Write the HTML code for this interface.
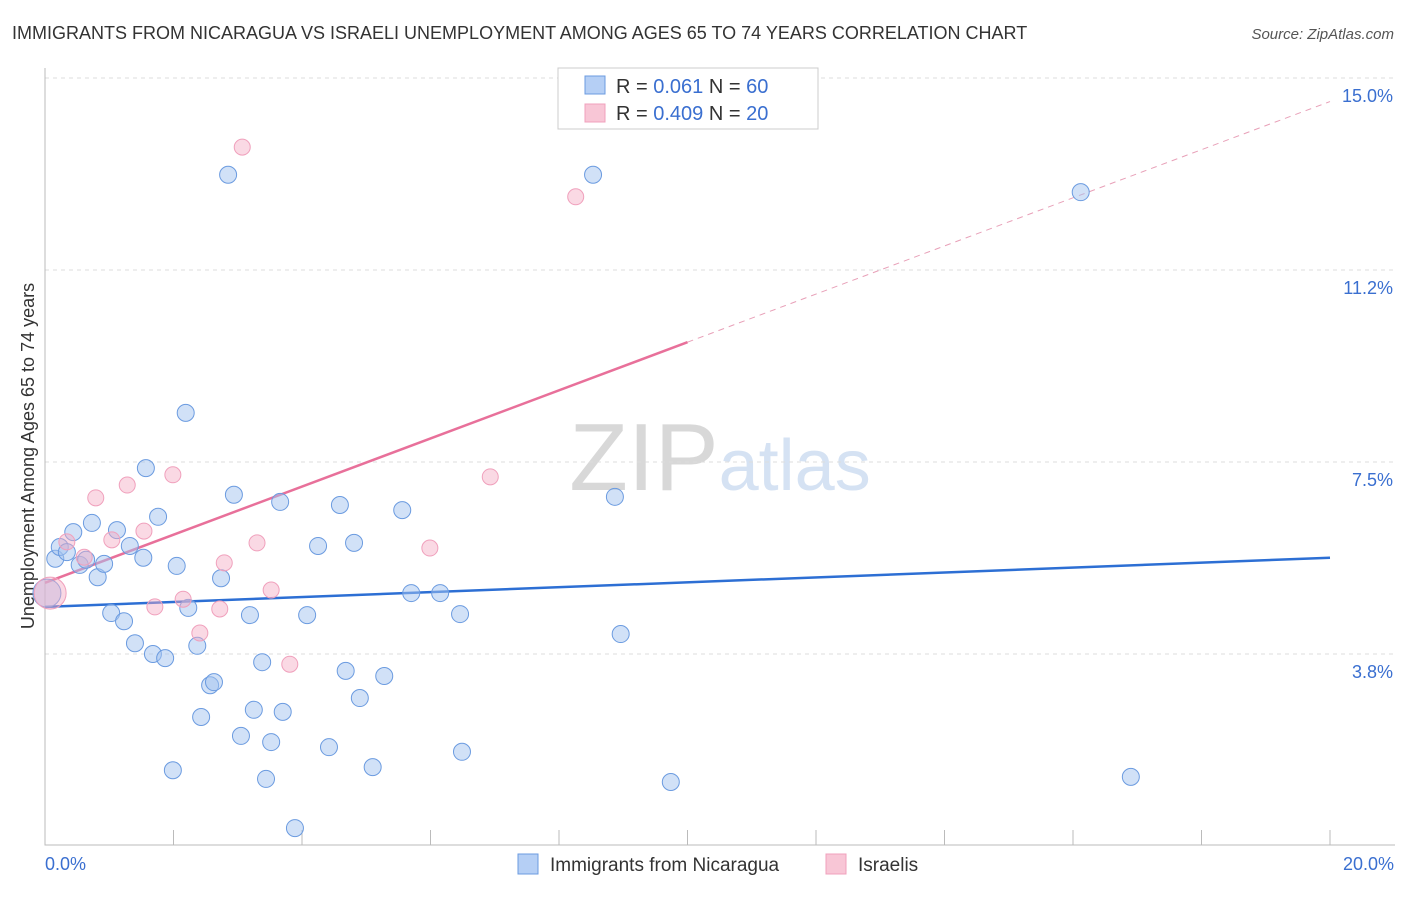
<!DOCTYPE html>
<html><head><meta charset="utf-8"><style>
body{margin:0;background:#fff;font-family:"Liberation Sans",sans-serif;}
svg text{font-family:"Liberation Sans",sans-serif;}
</style></head><body>
<svg id="chart" width="1406" height="892" xmlns="http://www.w3.org/2000/svg">
<text x="12" y="39" font-size="18" fill="#333">IMMIGRANTS FROM NICARAGUA VS ISRAELI UNEMPLOYMENT AMONG AGES 65 TO 74 YEARS CORRELATION CHART</text>
<text x="1394" y="39" font-size="15" fill="#555" text-anchor="end" font-style="italic">Source: ZipAtlas.com</text>
<text x="720" y="490" font-size="96" text-anchor="middle" fill="#ddd" font-family="Liberation Serif"><tspan fill="#d8d8d8">ZIP</tspan><tspan fill="#d5e2f3" font-family="Liberation Sans" font-size="72">atlas</tspan></text>
<text transform="translate(34,456) rotate(-90)" font-size="18" fill="#333" text-anchor="middle">Unemployment Among Ages 65 to 74 years</text>
<g id="grid"></g><g id="trends"></g><g id="points"></g>
<g>
<rect x="558" y="68" width="260" height="61" fill="#fff" stroke="#ccc"/>
<rect x="585" y="76" width="20" height="18" fill="#b5cff5" stroke="#6b9be0"/>
<text x="616" y="93" font-size="20" fill="#333">R = <tspan fill="#3a6fd0"> 0.061</tspan>   N = <tspan fill="#3a6fd0">60</tspan></text>
<rect x="585" y="104" width="20" height="18" fill="#f8c6d6" stroke="#f0a0bc"/>
<text x="616" y="120" font-size="20" fill="#333">R = <tspan fill="#3a6fd0">0.409</tspan>   N = <tspan fill="#3a6fd0">20</tspan></text>
</g>
<g>
<rect x="518" y="854" width="20" height="20" fill="#b5cff5" stroke="#6b9be0"/>
<text x="550" y="871" font-size="19" fill="#333">Immigrants from Nicaragua</text>
<rect x="826" y="854" width="20" height="20" fill="#f8c6d6" stroke="#f0a0bc"/>
<text x="858" y="871" font-size="19" fill="#333">Israelis</text>
</g>
</svg>
<script>
const blueX=[0.16,0.23,0.34,0.44,0.54,0.64,0.73,0.82,0.92,1.03,1.12,1.23,1.32,1.40,1.53,1.57,1.68,1.76,1.87,1.99,2.05,2.19,2.23,2.37,2.43,2.57,2.63,2.74,2.85,2.94,3.05,3.19,3.25,3.38,3.44,3.52,3.66,3.70,3.89,4.08,4.25,4.42,4.59,4.68,4.81,4.90,5.10,5.28,5.56,5.70,6.15,6.46,6.49,8.53,8.87,8.96,9.74,16.12,16.90,0.03];
const blueY=[5.61,5.84,5.74,6.13,5.49,5.59,6.31,5.25,5.51,4.55,6.17,4.39,5.86,3.96,5.63,7.38,3.75,6.43,3.67,1.48,5.47,8.46,4.65,3.91,2.52,3.14,3.20,5.23,13.11,6.86,2.15,4.51,2.66,3.59,1.31,2.03,6.72,2.62,0.35,4.51,5.86,1.93,6.66,3.42,5.92,2.89,1.54,3.32,6.56,4.94,4.94,4.53,1.84,13.11,6.82,4.14,1.25,12.77,1.35,4.94];
const pinkX=[0.08,0.34,0.61,0.79,1.04,1.28,1.54,1.71,1.99,2.15,2.41,2.72,2.79,3.07,3.30,3.52,3.81,5.99,6.93,8.26];
const pinkY=[4.94,5.94,5.64,6.80,5.98,7.05,6.15,4.67,7.25,4.82,4.16,4.63,5.53,13.65,5.92,5.00,3.55,5.82,7.21,12.68];
const blueTrend=[4.67,5.63];   // y at x=0 and x=20
const pinkTrend=[5.14,0.47];   // intercept, slope
const yTicks=[3.75,7.5,11.25,15];
const yTickLabels=["3.8%","7.5%","11.2%","15.0%"];
const xTickLabels=["0.0%","20.0%"];
const X0=45,X1=1330,Y0=846,PXY=192/3.75;
const sx=v=>X0+(X1-X0)*v/20, sy=v=>Y0-v*PXY;
const NS="http://www.w3.org/2000/svg";
function mk(tag,attrs,parent){const e=document.createElementNS(NS,tag);for(const k in attrs)e.setAttribute(k,attrs[k]);parent.appendChild(e);return e;}
const grid=document.getElementById('grid');
yTicks.forEach((t,i)=>{
 const l=mk('line',{x1:X0,x2:1395,y1:sy(t),y2:sy(t),stroke:'#ddd','stroke-dasharray':'4,4'},grid);
 
 
 const tx=mk('text',{x:1393,y:sy(t)+24,'font-size':18,fill:'#3a6fd0','text-anchor':'end'},grid);
 tx.textContent=yTickLabels[i];
 
 
});
const ax=mk('path',{d:`M${X0},68 V${Y0-1} H1395`,stroke:'#bbb',fill:'none'},grid);


for(let i=0;i<=10;i++){
 const t=mk('line',{x1:sx(i*2),x2:sx(i*2),y1:830,y2:845,stroke:'#bbb'},grid);
 
 
}
[[0,'start',45],[20,'end',1394]].forEach((a,i)=>{
 const tx=mk('text',{x:a[2],y:870,'font-size':18,fill:'#3a6fd0','text-anchor':a[1]},grid);
 tx.textContent=xTickLabels[i];
 
 
});
const tr=document.getElementById('trends');
let l=mk('line',{x1:sx(0),y1:sy(blueTrend[0]),x2:sx(20),y2:sy(blueTrend[1]),stroke:'#2d6fd4','stroke-width':2.5},tr);


l=mk('line',{x1:sx(0),y1:sy(pinkTrend[0]),x2:sx(10),y2:sy(pinkTrend[0]+pinkTrend[1]*10),stroke:'#e8709a','stroke-width':2.5},tr);


l=mk('line',{x1:sx(10),y1:sy(pinkTrend[0]+pinkTrend[1]*10),x2:sx(20),y2:sy(pinkTrend[0]+pinkTrend[1]*20),stroke:'#e8a0b8','stroke-width':1,'stroke-dasharray':'6,5'},tr);


const pts=document.getElementById('points');
blueX.forEach((x,i)=>{
 const r=(i===blueX.length-1)?14:8.5;
 const c=mk('circle',{cx:sx(x),cy:sy(blueY[i]),r:r,fill:'rgba(164,196,240,0.5)',stroke:'#6b9be0','stroke-width':1},pts);
 
 
});
pinkX.forEach((x,i)=>{
 const r=i===0?16:8;
 const c=mk('circle',{cx:sx(x),cy:sy(pinkY[i]),r:r,fill:'rgba(245,170,195,0.45)',stroke:'#f0a0bc','stroke-width':1},pts);
 
 
});
</script>
</body></html>
